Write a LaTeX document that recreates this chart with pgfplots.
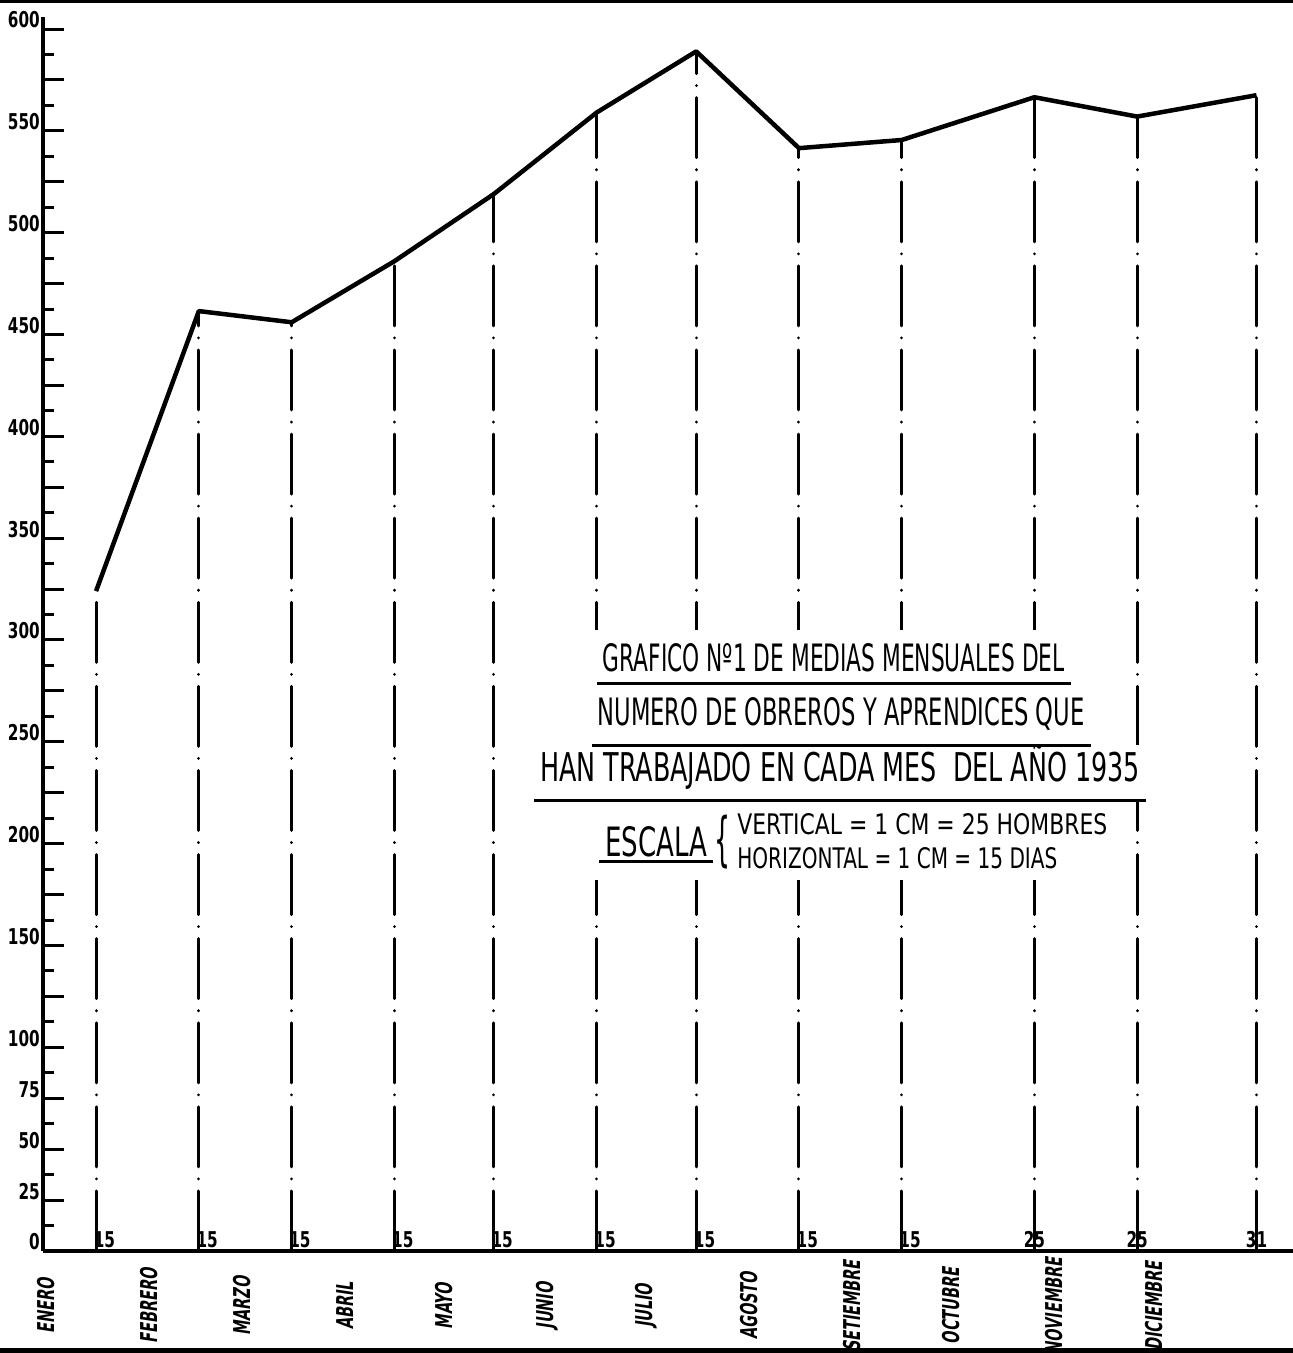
\documentclass[border=0pt]{standalone}
\usepackage{graphicx}
\usepackage{pgfplots}
\pgfplotsset{compat=1.18}
\usepackage{pgfplotstable}
\usepackage{fontspec}
\setmainfont{DejaVu Sans}
\newfontfamily\tfont{DejaVu Sans}
\newfontfamily\nfont[FakeStretch=0.7]{DejaVu Sans}
\newfontfamily\mfont[FakeStretch=0.62,FakeSlant=0.15]{DejaVu Sans}

% texto subrayado: #1 = distancia al subrayado
\newcommand\subr[2]{\vbox{\hbox{\kern0.6mm#2\kern0.6mm}\kern#1\hrule height 0.35mm}}

% dia del año / media mensual de obreros y aprendices (1935)
\pgfplotstableread{
dia obreros
15  324
46  461.5
74  456
105 486
135 519
166 559
196 589
227 541.5
258 545.5
298 566.5
329 557
365 567.5
}\medias

\tikzset{
    ttl/.style={inner sep=0pt, anchor=south},
    mes/.style={rotate=90, inner sep=0pt, font=\mfont\bfseries\fontsize{6.6}{7}\selectfont},
    dia/.style={inner sep=0pt, yshift=0.25mm, font=\nfont\bfseries\fontsize{6.2}{7}\selectfont},
}

\begin{document}
\begin{tikzpicture}
\useasboundingbox (-4.3mm,-10.2mm) rectangle (125mm,125.1mm);
\draw[line width=0.3mm] (-4.3mm,124.95mm) -- (125mm,124.95mm);
\draw[line width=0.5mm] (-4.3mm,-9.95mm) -- (125mm,-9.95mm);
\begin{axis}[
    scale only axis,
    width=125mm, height=123.42mm,
    xmin=-1, xmax=376, ymin=0, ymax=606,
    axis lines=left,
    axis line style={-, line width=0.35mm},
    xtick=\empty,
    ytick={0,25,...,600},
    yticklabels={0,25,50,75,100,,150,,200,,250,,300,,350,,400,,450,,500,,550,,600},
    minor ytick={12.5,37.5,...,587.5},
    tick align=inside,
    major tick length=2.1mm, minor tick length=1.1mm,
    tick style={black, line width=0.3mm},
    yticklabel style={font=\nfont\bfseries\fontsize{6.2}{7}\selectfont,
        anchor=south east, inner sep=0pt, xshift=-0.25mm},
    clip=false,
]
\addplot[ycomb, black, line width=0.3mm, line cap=round,
    dash pattern=on 6mm off 1.2mm on 0.01mm off 1.2mm] table[x=dia, y=obreros]{\medias};
\addplot[black, line width=0.45mm, line join=round] table[x=dia, y=obreros]{\medias};

% dias
\node[dia, anchor=south west, xshift=-0.3mm] at (axis cs:15,0) {15};
\node[dia, anchor=south west, xshift=-0.3mm] at (axis cs:46,0) {15};
\node[dia, anchor=south west, xshift=-0.3mm] at (axis cs:74,0) {15};
\node[dia, anchor=south west, xshift=-0.3mm] at (axis cs:105,0) {15};
\node[dia, anchor=south west, xshift=-0.3mm] at (axis cs:135,0) {15};
\node[dia, anchor=south west, xshift=-0.3mm] at (axis cs:166,0) {15};
\node[dia, anchor=south west, xshift=-0.3mm] at (axis cs:196,0) {15};
\node[dia, anchor=south west, xshift=-0.3mm] at (axis cs:227,0) {15};
\node[dia, anchor=south west, xshift=-0.3mm] at (axis cs:258,0) {15};
\node[dia, anchor=south] at (axis cs:298,0) {25};
\node[dia, anchor=south] at (axis cs:329,0) {25};
\node[dia, anchor=south] at (axis cs:365,0) {31};

% meses
\node[mes] at (axis cs:0,-27) {ENERO};
\node[mes] at (axis cs:31,-27) {FEBRERO};
\node[mes] at (axis cs:59,-27) {MARZO};
\node[mes] at (axis cs:90,-27) {ABRIL};
\node[mes] at (axis cs:120,-27) {MAYO};
\node[mes] at (axis cs:151,-27) {JUNIO};
\node[mes] at (axis cs:181,-27) {JULIO};
\node[mes] at (axis cs:212,-27) {AGOSTO};
\node[mes] at (axis cs:243,-27) {SETIEMBRE};
\node[mes] at (axis cs:273,-27) {OCTUBRE};
\node[mes] at (axis cs:304,-27) {NOVIEMBRE};
\node[mes] at (axis cs:334,-27) {DICIEMBRE};

% titulo (fondo blanco que tapa las verticales)
\node[fill=white, inner sep=0pt, minimum width=57.5mm, minimum height=25mm] at (axis cs:236.9,243.5) {};
\node[ttl, fill=white] at (axis cs:239.4,220) {\subr{0.9mm}{\tfont\resizebox{60mm}{3.65mm}{HAN TRABAJADO EN CADA MES\ \ DEL AÑO 1935}}};
\node[ttl] at (axis cs:237.5,277.4) {\subr{1mm}{\tfont\resizebox{46.2mm}{2.8mm}{GRAFICO Nº1 DE MEDIAS MENSUALES DEL}}};
\node[ttl] at (axis cs:239.7,247) {\subr{1.3mm}{\tfont\resizebox{48.7mm}{2.8mm}{NUMERO DE OBREROS Y APRENDICES QUE}}};
\node[ttl] at (axis cs:183.9,190) {\subr{0.3mm}{\tfont\resizebox{10.2mm}{3.0mm}{ESCALA}}};
\node[inner sep=0pt] at (axis cs:204,201) {\resizebox*{1.6mm}{5.4mm}{\tfont\{}};
\node[anchor=west, inner sep=0pt] at (axis cs:208.2,209.6) {\tfont\resizebox{37mm}{2.1mm}{VERTICAL = 1 CM = 25 HOMBRES}};
\node[anchor=west, inner sep=0pt] at (axis cs:208.2,193.1) {\tfont\resizebox{32mm}{2.1mm}{HORIZONTAL = 1 CM = 15 DIAS}};
\end{axis}
\end{tikzpicture}
\end{document}
